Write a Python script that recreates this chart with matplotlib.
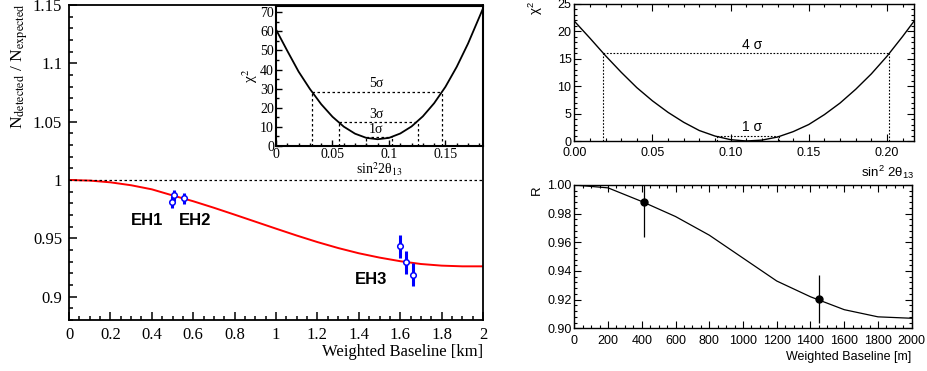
import numpy as np
import matplotlib.pyplot as plt
from matplotlib.ticker import MultipleLocator, FormatStrFormatter

plt.rcParams['mathtext.fontset'] = 'custom'
plt.rcParams['mathtext.rm'] = 'Liberation Sans'
plt.rcParams['mathtext.it'] = 'Liberation Sans:italic'

SERIF = 'Liberation Serif'
SANS = 'Liberation Sans'

# ---- left: ratio vs weighted baseline (km)
base_km = [0.0, 0.1, 0.2, 0.3, 0.4, 0.5, 0.6, 0.7, 0.8, 0.9, 1.0,
           1.1, 1.2, 1.3, 1.4, 1.5, 1.6, 1.7, 1.8, 1.9, 2.0]
ratio_fit = [1.0000, 0.9995, 0.9980, 0.9955, 0.9920, 0.9868, 0.9818,
             0.9762, 0.9703, 0.9643, 0.9583, 0.9524, 0.9468, 0.9417,
             0.9372, 0.9335, 0.9304, 0.9280, 0.9266, 0.9260, 0.9260]
eh_x = [0.498, 0.505, 0.556, 1.599, 1.628, 1.663]
eh_y = [0.9813, 0.9868, 0.9845, 0.9431, 0.9293, 0.9188]
eh_err = [0.005, 0.005, 0.0047, 0.010, 0.010, 0.0098]
eh_names = ['EH1', 'EH2', 'EH3']
eh_name_x = [0.375, 0.61, 1.46]
eh_name_y = [0.9653, 0.9653, 0.9150]

# ---- inset: chi2 vs sin^2 2theta13
s2t_in = [0.00, 0.01, 0.02, 0.03, 0.04, 0.05, 0.06, 0.07, 0.08, 0.09,
          0.10, 0.11, 0.12, 0.13, 0.14, 0.15, 0.16, 0.17, 0.18, 0.185]
chi2_in = [61.0, 49.8, 38.9, 29.8, 21.8, 15.2, 10.0, 6.3, 4.1, 3.4,
           4.1, 6.4, 10.1, 15.4, 22.3, 30.9, 41.4, 53.6, 67.5, 74.5]
sig_in = ['1σ', '3σ', '5σ']
sig_lvl_in = [4.4, 12.4, 28.4]
sig_lo_in = [0.0796, 0.0558, 0.0316]
sig_hi_in = [0.1029, 0.1260, 0.1472]

# ---- right top: chi2
s2t_r = [0.00, 0.01, 0.02, 0.03, 0.04, 0.05, 0.06, 0.07, 0.08, 0.09, 0.10,
         0.11, 0.12, 0.13, 0.14, 0.15, 0.16, 0.17, 0.18, 0.19, 0.20, 0.21, 0.22]
chi2_r = [21.8, 18.7, 15.5, 12.5, 9.7, 7.3, 5.2, 3.4, 1.9, 0.9, 0.24,
          0.0, 0.16, 0.72, 1.7, 3.0, 4.8, 6.9, 9.4, 12.2, 15.4, 19.0, 22.8]
sig_r = ['1 σ', '4 σ']
sig_lvl_r = [1.0, 16.0]
sig_lo_r = [0.0916, 0.0185]
sig_hi_r = [0.1310, 0.2015]

# ---- right bottom: R vs baseline (m)
base_m = [0, 200, 400, 600, 800, 1000, 1200, 1400, 1600, 1800, 2000]
r_fit = [1.000, 0.998, 0.9885, 0.978, 0.965, 0.949, 0.933, 0.922,
         0.913, 0.908, 0.907]
r_x = [413, 1452]
r_y = [0.988, 0.9203]
r_err = [0.0245, 0.0166]

W, H = 927, 371
fig = plt.figure(figsize=(W / 100, H / 100), dpi=100)


def box(l, t, r, b):
    return [l / W, 1 - b / H, (r - l) / W, (b - t) / H]


# ================= left main
ax = fig.add_axes(box(69, 5, 483, 320))
ax.plot(base_km, ratio_fit, color='red', lw=1.4, zorder=2)
ax.plot([0, 2], [1, 1], color='black', ls=(0, (2, 2)), lw=0.9)
ax.errorbar(eh_x, eh_y, yerr=eh_err, fmt='o', color='blue', ecolor='blue',
            elinewidth=2.2, capsize=0, ms=4, mfc='white', mec='blue',
            mew=1.1, zorder=3)
for n, x, y in zip(eh_names, eh_name_x, eh_name_y):
    ax.text(x, y, n, fontsize=12, fontweight='bold', family=SANS,
            ha='center', va='center')
ax.set_xlim(0, 2)
ax.set_ylim(0.88, 1.15)
ax.xaxis.set_major_locator(MultipleLocator(0.2))
ax.xaxis.set_minor_locator(MultipleLocator(0.05))
ax.yaxis.set_major_locator(MultipleLocator(0.05))
ax.yaxis.set_minor_locator(MultipleLocator(0.01))
ax.xaxis.set_major_formatter(FormatStrFormatter('%g'))
ax.yaxis.set_major_formatter(FormatStrFormatter('%g'))
ax.tick_params(which='both', direction='in', width=1.1)
ax.tick_params(which='major', length=6, labelsize=12, pad=5)
ax.tick_params(which='minor', length=3)
for lb in ax.get_xticklabels() + ax.get_yticklabels():
    lb.set_family(SERIF)
for s in ax.spines.values():
    s.set_linewidth(1.3)
fig.text(483 / W, 1 - 352 / H, 'Weighted Baseline [km]', family=SERIF,
         fontsize=12, ha='right', va='center')
fig.text(20 / W, 1 - 3 / H, r'N$_{\rm detected}$ / N$_{\rm expected}$',
         family=SERIF, math_fontfamily='stix', fontsize=12.5, rotation=90,
         ha='center', va='top')

# ================= inset
ai = fig.add_axes(box(276, 5.7, 482.7, 145.7))
ai.plot(s2t_in, chi2_in, color='black', lw=1.3)
for lab, lv, lo, hi in zip(sig_in, sig_lvl_in, sig_lo_in, sig_hi_in):
    ai.plot([lo, hi], [lv, lv], color='black', ls=(0, (2, 2)), lw=0.9)
    ai.plot([lo, lo], [0, lv], color='black', ls=(0, (2, 2)), lw=0.9)
    ai.plot([hi, hi], [0, lv], color='black', ls=(0, (2, 2)), lw=0.9)
    ai.text(0.0885, lv + 0.6, lab, family=SERIF, fontsize=10,
            ha='center', va='bottom')
ai.set_xlim(0, 0.183)
ai.set_ylim(0, 73.5)
ai.xaxis.set_major_locator(MultipleLocator(0.05))
ai.xaxis.set_minor_locator(MultipleLocator(0.01))
ai.yaxis.set_major_locator(MultipleLocator(10))
ai.yaxis.set_minor_locator(MultipleLocator(5))
ai.xaxis.set_major_formatter(FormatStrFormatter('%g'))
ai.tick_params(which='both', direction='in', width=1.0, pad=1.5)
ai.tick_params(which='major', length=4, labelsize=10)
ai.tick_params(which='minor', length=2)
for lb in ai.get_xticklabels() + ai.get_yticklabels():
    lb.set_family(SERIF)
for s in ai.spines.values():
    s.set_linewidth(1.5)
ai.set_xlabel(r'sin$^{2}$2θ$_{13}$', family=SERIF, math_fontfamily='stix',
              fontsize=10, labelpad=0)
ai.set_ylabel(r'χ$^{2}$', family=SERIF, math_fontfamily='stix',
              fontsize=11, labelpad=0)


def root_style(a):
    a.tick_params(which='both', direction='in', top=True, right=True,
                  width=0.8, labelsize=9, pad=2)
    a.tick_params(which='major', length=5)
    a.tick_params(which='minor', length=2.5)
    a.tick_params(axis='x', pad=4.5)
    for lb in a.get_xticklabels() + a.get_yticklabels():
        lb.set_family(SANS)
    for s in a.spines.values():
        s.set_linewidth(1.0)


# ================= right top
at = fig.add_axes(box(574.3, 3.5, 914.3, 141))
at.plot(s2t_r, chi2_r, color='black', lw=1.0)
for lab, lv, lo, hi in zip(sig_r, sig_lvl_r, sig_lo_r, sig_hi_r):
    at.plot([lo, hi], [lv, lv], color='black', ls=(0, (1.5, 1.5)), lw=0.8)
    at.plot([lo, lo], [0, lv], color='black', ls=(0, (1.5, 1.5)), lw=0.8)
    at.plot([hi, hi], [0, lv], color='black', ls=(0, (1.5, 1.5)), lw=0.8)
    at.text(0.114, lv + 0.2, lab, family=SANS, fontsize=10,
            ha='center', va='bottom')
at.set_xlim(0, 0.2175)
at.set_ylim(0, 25)
at.xaxis.set_major_locator(MultipleLocator(0.05))
at.xaxis.set_minor_locator(MultipleLocator(0.01))
at.yaxis.set_major_locator(MultipleLocator(5))
at.yaxis.set_minor_locator(MultipleLocator(1))
at.xaxis.set_major_formatter(FormatStrFormatter('%.2f'))
root_style(at)
fig.text(914 / W, 1 - 172 / H, r'sin$^{2}$ 2θ$_{13}$', family=SANS,
         fontsize=9.5, ha='right', va='center')
fig.text(536 / W, 1 - 1 / H, r'χ$^{2}$', family=SANS, fontsize=9.5,
         rotation=90, ha='center', va='top')

# ================= right bottom
ab = fig.add_axes(box(574.3, 185, 911.7, 328.3))
ab.plot(base_m, r_fit, color='black', lw=0.9)
ab.errorbar(r_x, r_y, yerr=r_err, fmt='o', color='black', ms=5,
            elinewidth=0.9, capsize=0)
ab.set_xlim(0, 2000)
ab.set_ylim(0.90, 1.00)
ab.xaxis.set_major_locator(MultipleLocator(200))
ab.xaxis.set_minor_locator(MultipleLocator(50))
ab.yaxis.set_major_locator(MultipleLocator(0.02))
ab.yaxis.set_minor_locator(MultipleLocator(0.004))
ab.yaxis.set_major_formatter(FormatStrFormatter('%.2f'))
root_style(ab)
fig.text(911 / W, 1 - 357 / H, 'Weighted Baseline [m]', family=SANS,
         fontsize=9, ha='right', va='center')
fig.text(537 / W, 1 - 185 / H, 'R', family=SANS, fontsize=9.5,
         rotation=90, ha='center', va='top')

fig.savefig('out.png', dpi=100)
